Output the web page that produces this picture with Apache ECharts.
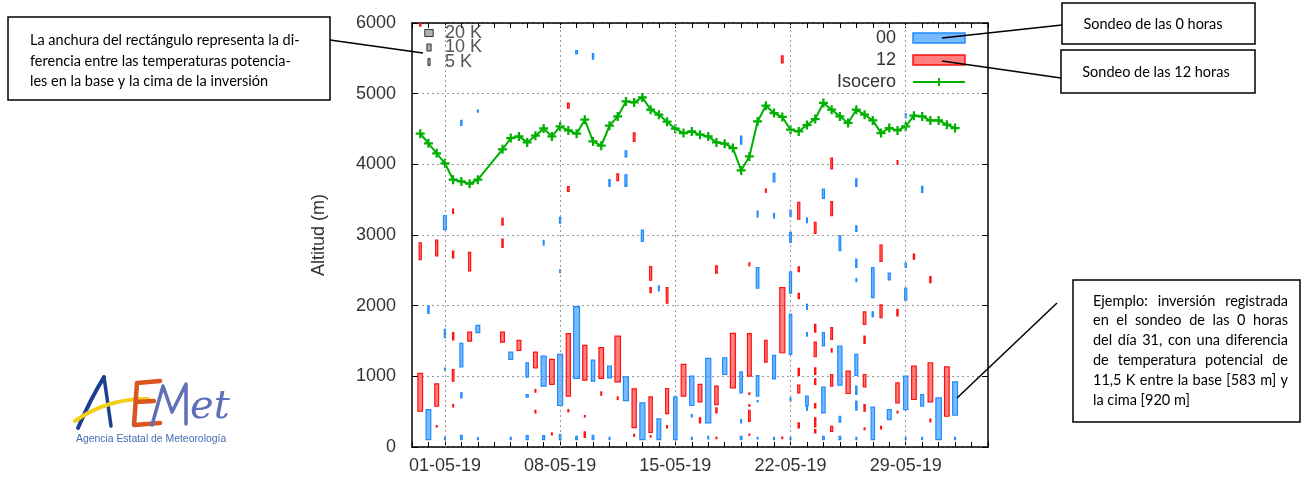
<!DOCTYPE html>
<html>
<head>
<meta charset="utf-8">
<script src="https://cdn.jsdelivr.net/npm/echarts@6/dist/echarts.min.js"></script>
<style>
  html, body { margin: 0; padding: 0; background: #fff; }
  #chart { width: 1305px; height: 479px; }
</style>
</head>
<body>
<div id="chart"></div>
<script>
// x = days since 29-04-2019 00 h (00 h soundings on whole days, 12 h soundings on .5)
const labelDays = [2, 9, 16, 23, 30]
const keyK = [20, 10, 5]

// inversions [day, base (m), top (m), potential temperature difference (K)]
const inv00 = [
  [1, 1892, 1996, 3], [1, 104, 530, 11],
  [2, 3075, 3273, 7], [2, 1547, 1665, 3], [2, 1088, 1116, 2], [2, 104, 137, 2],
  [3, 4550, 4621, 3], [3, 1135, 1466, 7], [3, 695, 766, 3], [3, 104, 166, 4],
  [4, 4739, 4768, 2], [4, 1618, 1722, 9], [4, 104, 132, 2],
  [6, 1239, 1343, 9], [6, 104, 137, 2],
  [7, 989, 1192, 6], [7, 705, 743, 5], [7, 104, 161, 5],
  [8, 2857, 2923, 2], [8, 861, 1287, 12], [8, 104, 161, 5],
  [9, 3169, 3250, 3], [9, 2469, 2507, 2], [9, 587, 1310, 12], [9, 104, 175, 4],
  [10, 5562, 5610, 4], [10, 970, 1987, 14], [10, 104, 151, 4],
  [11, 5487, 5567, 3], [11, 932, 1230, 8], [11, 104, 166, 4],
  [12, 3689, 3784, 3], [12, 979, 1145, 9], [12, 104, 137, 2],
  [13, 4106, 4191, 4], [13, 3689, 3850, 5], [13, 657, 993, 12],
  [14, 2909, 3070, 5], [14, 104, 624, 12],
  [15, 2209, 2280, 2], [15, 104, 397, 9],
  [16, 104, 709, 8],
  [17, 587, 1003, 10], [17, 426, 459, 2], [17, 104, 137, 2],
  [18, 341, 1253, 12], [18, 114, 151, 2],
  [19, 1026, 1263, 10],
  [20, 4285, 4399, 3], [20, 766, 1064, 6], [20, 341, 388, 2], [20, 104, 151, 4],
  [21, 3254, 3339, 2], [21, 2247, 2540, 6], [21, 719, 1012, 6], [21, 639, 657, 2], [21, 115, 135, 2],
  [22, 3751, 3874, 4], [22, 3240, 3306, 2], [22, 965, 1296, 7], [22, 104, 137, 2],
  [23, 3259, 3354, 3], [23, 2895, 3037, 4], [23, 2176, 2478, 5], [23, 1310, 1878, 6], [23, 648, 695, 2], [23, 104, 132, 2],
  [24, 3174, 3240, 2], [24, 1949, 2020, 2], [24, 1570, 1618, 2], [24, 580, 720, 6], [24, 520, 580, 2],
  [25, 3519, 3651, 5], [25, 1429, 1618, 5], [25, 482, 847, 8], [25, 104, 151, 4],
  [26, 2777, 2989, 4], [26, 875, 1429, 10], [26, 350, 435, 4], [26, 104, 151, 4],
  [27, 3689, 3793, 3], [27, 3051, 3131, 3], [27, 2540, 2658, 3], [27, 2341, 2384, 2],
  [27, 1012, 1310, 7], [27, 743, 861, 3], [27, 520, 648, 3], [27, 104, 137, 2],
  [28, 2114, 2540, 6], [28, 1845, 1911, 3], [28, 104, 563, 8],
  [29, 2365, 2460, 5], [29, 388, 530, 9],
  [30, 4659, 4716, 2], [30, 2540, 2601, 3], [30, 2077, 2247, 5], [30, 530, 1003, 10], [30, 104, 132, 2],
  [31, 3604, 3689, 3], [31, 577, 743, 7], [31, 104, 137, 2],
  [32, 104, 695, 13],
  [33, 449, 922, 11.5], [33, 104, 137, 2]
]

const inv12 = [
  [0.5, 5955, 6000, 3], [0.5, 2650, 2890, 5], [0.5, 506, 1041, 11],
  [1.5, 2706, 2928, 5], [1.5, 577, 894, 9], [1.5, 283, 303, 2],
  [2.5, 3306, 3368, 2], [2.5, 2677, 2772, 3], [2.5, 1514, 1618, 3], [2.5, 932, 1097, 4], [2.5, 568, 600, 2],
  [3.5, 2493, 2753, 5], [3.5, 1499, 1627, 9],
  [5.5, 3141, 3235, 3], [5.5, 2824, 2942, 3], [5.5, 1485, 1627, 9],
  [6.5, 1367, 1509, 9],
  [7.5, 1121, 1343, 9], [7.5, 776, 814, 2], [7.5, 482, 520, 2],
  [8.5, 885, 1239, 11], [8.5, 170, 199, 2],
  [9.5, 4796, 4867, 4], [9.5, 3618, 3685, 4], [9.5, 719, 1603, 10], [9.5, 497, 530, 2],
  [10.5, 946, 1438, 10], [10.5, 425, 445, 2], [10.5, 137, 213, 3],
  [11.5, 970, 1405, 11], [11.5, 733, 780, 2],
  [12.5, 3770, 3864, 4], [12.5, 922, 1570, 13], [12.5, 672, 709, 2],
  [13.5, 4323, 4446, 4], [13.5, 274, 823, 10], [13.5, 151, 180, 2],
  [14.5, 2360, 2554, 5], [14.5, 2185, 2256, 3], [14.5, 208, 709, 8], [14.5, 141, 160, 2],
  [15.5, 2034, 2256, 4], [15.5, 473, 828, 7], [15.5, 270, 303, 2],
  [16.5, 719, 1168, 11],
  [17.5, 639, 885, 9], [17.5, 341, 412, 3],
  [18.5, 2460, 2564, 4], [18.5, 601, 861, 8], [18.5, 482, 553, 3], [18.5, 118, 138, 2],
  [19.5, 837, 1608, 12],
  [20.5, 2564, 2606, 2], [20.5, 1003, 1603, 9], [20.5, 743, 766, 2], [20.5, 577, 600, 2], [20.5, 364, 520, 4], [20.5, 166, 184, 2],
  [21.5, 3604, 3651, 2], [21.5, 1201, 1509, 6],
  [22.5, 5435, 5534, 4], [22.5, 1334, 2256, 12], [22.5, 120, 140, 2],
  [23.5, 3226, 3462, 5], [23.5, 2483, 2550, 3], [23.5, 2100, 2176, 3], [23.5, 1012, 1112, 3], [23.5, 766, 875, 5], [23.5, 270, 341, 3],
  [24.5, 3023, 3178, 4], [24.5, 1627, 1736, 3], [24.5, 1277, 1485, 5], [24.5, 1026, 1121, 3],
  [24.5, 885, 965, 3], [24.5, 553, 615, 3], [24.5, 284, 412, 3], [24.5, 199, 246, 3],
  [25.5, 3935, 4087, 4], [25.5, 3273, 3472, 4], [25.5, 1523, 1689, 4], [25.5, 1343, 1391, 2], [25.5, 861, 1026, 5], [25.5, 222, 293, 5],
  [26.5, 757, 1074, 10],
  [27.5, 1736, 1911, 6], [27.5, 1466, 1570, 3], [27.5, 851, 1026, 6], [27.5, 506, 600, 3], [27.5, 246, 270, 2],
  [28.5, 2625, 2857, 5], [28.5, 1831, 2010, 5], [28.5, 255, 293, 2],
  [29.5, 4002, 4054, 2], [29.5, 1854, 1949, 3], [29.5, 624, 908, 8], [29.5, 482, 506, 2],
  [30.5, 2658, 2729, 3], [30.5, 672, 1145, 11],
  [31.5, 2327, 2412, 3], [31.5, 639, 1192, 11], [31.5, 355, 397, 2],
  [32.5, 435, 1135, 11]
]

// freezing level (Isocero), every 12 h
const isoT = [0.5, 1, 1.5, 2, 2.5, 3, 3.5, 4,
  5.5, 6, 6.5, 7, 7.5, 8, 8.5, 9, 9.5, 10, 10.5, 11, 11.5, 12, 12.5, 13, 13.5, 14, 14.5, 15, 15.5, 16,
  16.5, 17, 17.5, 18, 18.5, 19, 19.5, 20, 20.5, 21, 21.5, 22, 22.5, 23, 23.5, 24, 24.5, 25, 25.5, 26,
  26.5, 27, 27.5, 28, 28.5, 29, 29.5, 30, 30.5, 31, 31.5, 32, 32.5, 33]
const isoH = [4433, 4298, 4156, 4015, 3782, 3758, 3726, 3782,
  4213, 4372, 4395, 4310, 4405, 4508, 4395, 4537, 4480, 4433, 4631, 4324, 4263, 4546, 4678, 4890, 4876, 4947, 4773, 4702, 4603, 4505,
  4443, 4466, 4419, 4395, 4310, 4292, 4231, 3914, 4112, 4607, 4830, 4726, 4670, 4490, 4466, 4556, 4641, 4868, 4773, 4678,
  4585, 4773, 4702, 4622, 4443, 4514, 4480, 4537, 4688, 4678, 4622, 4622, 4561, 4514]

const PX_PER_K = 0.42
const FONT = 'Liberation Sans'
const BLUE = '#1e8cff', BLUE_FILL = 'rgba(30,140,255,0.6)'
const RED = '#ff1010', RED_FILL = 'rgba(255,0,0,0.5)'
const GREEN = '#00b000'
const PLUS = 'path://M3,0H5V3H8V5H5V8H3V5H0V3H3Z'

function dayLabel(v) {
  const d = new Date(Date.UTC(2019, 3, 29) + v * 864e5)
  const p = (n) => String(n).padStart(2, '0')
  return p(d.getUTCDate()) + '-' + p(d.getUTCMonth() + 1) + '-' + p(d.getUTCFullYear() % 100)
}

function barRenderer(fill, stroke) {
  return function (params, api) {
    const top = api.coord([api.value(0), api.value(2)])
    const base = api.coord([api.value(0), api.value(1)])
    const w = Math.max(api.value(3) * PX_PER_K, 0.8)
    const h = Math.max(base[1] - top[1], 1.2)
    return {
      type: 'rect',
      shape: { x: top[0] - w / 2, y: top[1], width: w, height: h },
      style: { fill: fill, stroke: stroke, lineWidth: 1.2 }
    }
  }
}

function keyRenderer(params, api) {
  const cs = params.coordSys
  const i = api.value(0)
  const k = api.value(1)
  const w = k * PX_PER_K
  const cy = cs.y + 10 + i * 14.5
  return {
    type: 'group',
    children: [
      { type: 'rect', shape: { x: cs.x + 17 - w / 2, y: cy - 3.5, width: w, height: 7 },
        style: { fill: '#b0b0b0', stroke: '#333', lineWidth: 1 } },
      { type: 'text', style: { text: k + ' K', x: cs.x + 33, y: cy, font: '18px ' + FONT,
        fill: '#555', verticalAlign: 'middle' } }
    ]
  }
}

// justified text lines for the annotation box
const measureCtx = document.createElement('canvas').getContext('2d')
function justified(lines, x0, width, y0, step, font) {
  measureCtx.font = font
  const out = []
  lines.forEach((line, li) => {
    const y = y0 + li * step
    const words = line.split(' ')
    if (li === lines.length - 1 || words.length < 2) {
      out.push({ type: 'text', style: { text: line, x: x0, y: y, font: font, fill: '#000', verticalAlign: 'middle' } })
      return
    }
    const total = words.reduce((s, w) => s + measureCtx.measureText(w).width, 0)
    const gap = (width - total) / (words.length - 1)
    let x = x0
    words.forEach((w) => {
      out.push({ type: 'text', style: { text: w, x: x, y: y, font: font, fill: '#000', verticalAlign: 'middle' } })
      x += measureCtx.measureText(w).width + gap
    })
  })
  return out
}

const noteFont = '14.5px Lato'
const boxStyle = { fill: '#fff', stroke: '#000', lineWidth: 1.5 }
const lineStyle = { stroke: '#000', lineWidth: 1.5 }
const noteText = (text, x, y, align) => ({
  type: 'text', style: { text: text, x: x, y: y, font: noteFont, fill: '#000', align: align || 'left', verticalAlign: 'middle' }
})

const graphics = [
  { type: 'line', shape: { x1: 330, y1: 40, x2: 423, y2: 53 }, style: lineStyle },
  { type: 'rect', shape: { x: 8, y: 17, width: 322, height: 83 }, style: boxStyle },
  noteText('La anchura del rectángulo representa la di-', 30, 40),
  noteText('ferencia entre las temperaturas potencia-', 30, 61),
  noteText('les en la base y la cima de la inversión', 30, 81),

  { type: 'line', shape: { x1: 942, y1: 38, x2: 1062, y2: 25 }, style: lineStyle, z: 100 },
  { type: 'line', shape: { x1: 942, y1: 61, x2: 1061, y2: 78 }, style: lineStyle, z: 100 },
  { type: 'rect', shape: { x: 1062, y: 3, width: 193, height: 41 }, style: boxStyle },
  noteText('Sondeo de las 0 horas', 1153, 24, 'center'),
  { type: 'rect', shape: { x: 1061, y: 50, width: 194, height: 43 }, style: boxStyle },
  noteText('Sondeo de las 12 horas', 1156, 72, 'center'),

  { type: 'line', shape: { x1: 957, y1: 398, x2: 1057, y2: 303 }, style: lineStyle, z: 100 },
  { type: 'rect', shape: { x: 1073, y: 280, width: 227, height: 142 }, style: boxStyle },
  ...justified([
    'Ejemplo: inversión registrada',
    'en el sondeo de las 0 horas',
    'del día 31, con una diferencia',
    'de temperatura potencial de',
    '11,5 K entre la base [583 m] y',
    'la cima [920 m]'
  ], 1093, 195, 301, 19.8, noteFont),

  // AEMet logo
  { type: 'bezierCurve', shape: { x1: 78, y1: 428, cpx1: 90, cpy1: 400, x2: 104, y2: 377 },
    style: { fill: 'none', stroke: '#1c3f8f', lineWidth: 4, lineCap: 'round' } },
  { type: 'line', shape: { x1: 104, y1: 377, x2: 111, y2: 426 },
    style: { stroke: '#1c3f8f', lineWidth: 3.5, lineCap: 'round' } },
  { type: 'bezierCurve', shape: { x1: 75, y1: 421, cpx1: 108, cpy1: 398, x2: 148, y2: 399 },
    style: { fill: 'none', stroke: '#f3cf1a', lineWidth: 4, lineCap: 'round' } },
  { type: 'polyline', shape: { points: [[160, 381], [137, 383], [134, 425], [160, 423]] },
    style: { fill: 'none', stroke: '#d9561f', lineWidth: 4.5, lineCap: 'round', lineJoin: 'round' } },
  { type: 'line', shape: { x1: 136, y1: 402, x2: 154, y2: 401 },
    style: { stroke: '#d9561f', lineWidth: 4.5, lineCap: 'round' } },
  { type: 'polyline', shape: { points: [[152, 425], [163, 386], [172, 412], [186, 384], [186, 424]] },
    style: { fill: 'none', stroke: '#5f6fb8', lineWidth: 3.5, lineCap: 'round', lineJoin: 'round' } },
  { type: 'text', style: { text: 'et', x: 190, y: 428, font: 'italic 40px "DejaVu Serif"', fill: '#5f6fb8', verticalAlign: 'bottom' } },
  { type: 'text', style: { text: 'Agencia Estatal de Meteorología', x: 76, y: 439, font: '10.4px ' + FONT, fill: '#3d6db5', verticalAlign: 'middle' } }
]

const chart = echarts.init(document.getElementById('chart'))
const axisText = { fontFamily: FONT, fontSize: 18, color: '#333' }
const blackLine = { show: true, onZero: false, lineStyle: { color: '#000', width: 1.5 } }
const gridLine = { color: '#9a9a9a', type: [2, 3], width: 1 }

chart.setOption({
  animation: false,
  backgroundColor: '#fff',
  grid: { left: 412, top: 23, width: 576, height: 424 },
  legend: {
    data: [
      { name: '00', icon: 'rect', itemStyle: { color: BLUE_FILL, borderColor: BLUE, borderWidth: 1.5 } },
      { name: '12', icon: 'rect', itemStyle: { color: RED_FILL, borderColor: RED, borderWidth: 1.5 } },
      { name: 'Isocero' }
    ],
    orient: 'vertical', align: 'right', right: 334, top: 24,
    itemWidth: 52, itemHeight: 10, itemGap: 4,
    textStyle: { fontFamily: FONT, fontSize: 18, color: '#333', padding: [0, 12, 0, 0] },
    selectedMode: false
  },
  xAxis: [
    {
      type: 'value', min: 0, max: 35, interval: 1, position: 'bottom',
      axisLine: blackLine,
      axisTick: { inside: true, length: 5, lineStyle: { color: '#000' } },
      axisLabel: Object.assign({ margin: 10, formatter: (v) => labelDays.includes(v) ? dayLabel(v) : '' }, axisText),
      splitLine: { show: false }
    },
    {
      type: 'value', min: 0, max: 35, interval: 1, position: 'top',
      axisLine: blackLine,
      axisTick: { inside: true, length: 5, lineStyle: { color: '#000' } },
      axisLabel: { show: false },
      splitLine: { show: false }
    }
  ],
  yAxis: [
    {
      type: 'value', min: 0, max: 6000, interval: 1000, position: 'left',
      name: 'Altitud (m)', nameLocation: 'middle', nameGap: 84, nameRotate: 90,
      nameTextStyle: axisText,
      axisLine: blackLine,
      axisTick: { inside: true, length: 6, lineStyle: { color: '#000' } },
      axisLabel: Object.assign({ margin: 16, formatter: (v) => String(v) }, axisText),
      splitLine: { show: true, lineStyle: gridLine }
    },
    {
      type: 'value', min: 0, max: 6000, interval: 1000, position: 'right',
      axisLine: blackLine,
      axisTick: { inside: true, length: 6, lineStyle: { color: '#000' } },
      axisLabel: { show: false },
      splitLine: { show: false }
    }
  ],
  series: [
    {
      name: 'grid', type: 'line', data: [], z: 1, silent: true,
      markLine: {
        silent: true, symbol: ['none', 'none'], label: { show: false },
        lineStyle: gridLine, animation: false,
        data: labelDays.map((d) => ({ xAxis: d }))
      }
    },
    {
      name: '00', type: 'custom', z: 3, silent: true,
      itemStyle: { color: BLUE_FILL, borderColor: BLUE },
      renderItem: barRenderer(BLUE_FILL, BLUE),
      encode: { x: 0, y: [1, 2] },
      data: inv00
    },
    {
      name: '12', type: 'custom', z: 3, silent: true,
      itemStyle: { color: RED_FILL, borderColor: RED },
      renderItem: barRenderer(RED_FILL, RED),
      encode: { x: 0, y: [1, 2] },
      data: inv12
    },
    {
      name: 'Isocero', type: 'line', z: 4, silent: true,
      data: isoT.map((t, i) => [t, isoH[i]]),
      lineStyle: { color: GREEN, width: 2 },
      itemStyle: { color: GREEN },
      symbol: PLUS, symbolSize: 9, showAllSymbol: true
    },
    {
      name: 'key', type: 'custom', z: 5, silent: true,
      renderItem: keyRenderer,
      data: keyK.map((k, i) => [i, k])
    }
  ],
  graphic: { elements: graphics }
})
</script>
</body>
</html>
